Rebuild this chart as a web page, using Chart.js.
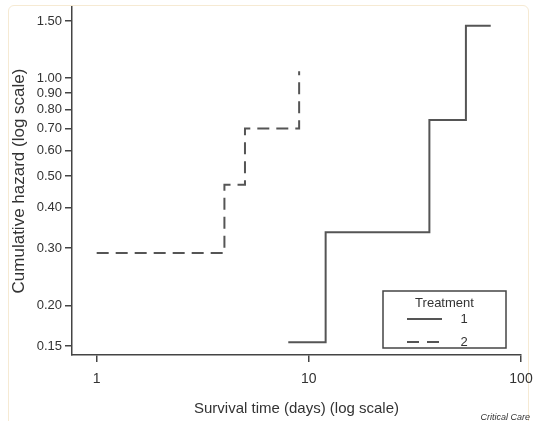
<!DOCTYPE html>
<html>
<head>
<meta charset="utf-8">
<script src="https://cdn.jsdelivr.net/npm/chart.js@4"></script>
<style>
  body { margin: 0; background: #fff; }
  #wrap { position: relative; width: 534px; height: 421px; }
  #frame {
    position: absolute; left: 8px; top: 5px; width: 521px; height: 430px;
    border: 1px solid #f6ead3; border-radius: 6px; box-sizing: border-box;
  }
  #credit {
    position: absolute; right: 4px; top: 412px;
    font: italic 9px "Liberation Sans", Arial, sans-serif; color: #333;
  }
  canvas { position: absolute; left: 0; top: 0; }
</style>
</head>
<body>
<div id="wrap">
  <div id="frame"></div>
  <canvas id="myChart" width="534" height="421"></canvas>
  <div id="credit">Critical Care</div>
</div>
<script>
// survival times (days) where cumulative hazard steps up
const treat1Days = [8, 12, 37, 55, 72];
const treat1Hazard = [0.154, 0.336, 0.744, 1.45, 1.45];
const treat2Days = [1, 4, 5, 9];
const treat2Hazard = [0.29, 0.47, 0.70, 1.05];

const yTicks = [0.15, 0.2, 0.3, 0.4, 0.5, 0.6, 0.7, 0.8, 0.9, 1.0, 1.5];
const xTicks = [1, 10, 100];
const legendTitle = "Treatment";
const legendLabels = ["1", "2"];

const ink = "#333";
const lineCol = "#555";
const font = "Liberation Sans";

const toPoints = (xs, ys) => xs.map((x, i) => ({ x: x, y: ys[i] }));

// legend drawn as a framed box in the lower right of the plot
const legendBox = {
  id: "legendBox",
  afterDraw(chart) {
    const { ctx, chartArea } = chart;
    const w = 123, h = 57;
    const left = chartArea.right - 15 - w;
    const top = chartArea.bottom - 7 - h;
    ctx.save();
    ctx.strokeStyle = "#444";
    ctx.lineWidth = 1.5;
    ctx.strokeRect(left, top, w, h);
    ctx.fillStyle = ink;
    ctx.font = "13px " + font;
    ctx.textAlign = "center";
    ctx.textBaseline = "middle";
    ctx.fillText(legendTitle, left + w / 2, top + 12);
    const dashes = [[], [12, 8]];
    legendLabels.forEach((lab, i) => {
      const y = top + 28 + i * 23;
      ctx.beginPath();
      ctx.setLineDash(dashes[i]);
      ctx.strokeStyle = lineCol;
      ctx.lineWidth = 2;
      ctx.moveTo(left + 24, y);
      ctx.lineTo(left + 59, y);
      ctx.stroke();
      ctx.setLineDash([]);
      ctx.fillText(lab, left + 81, y);
    });
    ctx.restore();
  },
};

const config = {
  type: "scatter",
  data: {
    datasets: [
      {
        label: "1",
        data: toPoints(treat1Days, treat1Hazard),
        showLine: true,
        stepped: "before",
        borderColor: lineCol,
        borderWidth: 2,
        pointRadius: 0,
      },
      {
        label: "2",
        data: toPoints(treat2Days, treat2Hazard),
        showLine: true,
        stepped: "before",
        borderColor: lineCol,
        borderWidth: 2,
        borderDash: [12, 7],
        pointRadius: 0,
      },
    ],
  },
  options: {
    responsive: false,
    animation: false,
    layout: { padding: { top: 7, right: 13, left: 7, bottom: 0 } },
    plugins: {
      legend: { display: false },
      tooltip: { enabled: false },
    },
    scales: {
      x: {
        type: "logarithmic",
        min: 0.765,
        max: 100,
        afterBuildTicks: (scale) => {
          scale.ticks = xTicks.map((v) => ({ value: v }));
        },
        afterFit: (scale) => {
          scale.height = 66;
          scale.paddingLeft = 0;
          scale.paddingRight = 0;
        },
        ticks: {
          color: ink,
          font: { family: font, size: 14 },
          padding: 9,
          maxRotation: 0,
          callback: (v) => String(v),
        },
        grid: { drawOnChartArea: false, drawTicks: true, tickLength: 7, color: "#444", lineWidth: 1.5 },
        border: { display: true, color: "#444", width: 1.5 },
        title: {
          display: true,
          text: "Survival time (days) (log scale)",
          color: ink,
          font: { family: font, size: 15 },
          padding: { top: 4, bottom: 3 },
        },
      },
      y: {
        type: "logarithmic",
        min: 0.1407,
        max: 1.656,
        afterBuildTicks: (scale) => {
          scale.ticks = yTicks.map((v) => ({ value: v }));
        },
        afterFit: (scale) => {
          scale.width = 65;
          scale.paddingTop = 0;
          scale.paddingBottom = 0;
        },
        ticks: {
          color: ink,
          font: { family: font, size: 13 },
          padding: 3,
          callback: (v) => Number(v).toFixed(2),
        },
        grid: { drawOnChartArea: false, drawTicks: true, tickLength: 7, color: "#444", lineWidth: 1.5 },
        border: { display: true, color: "#444", width: 1.5 },
        title: {
          display: true,
          text: "Cumulative hazard (log scale)",
          color: ink,
          font: { family: font, size: 17 },
          padding: { top: 2, bottom: 0 },
        },
      },
    },
  },
  plugins: [legendBox],
};

const myChart = new Chart(document.getElementById("myChart"), config);
</script>
</body>
</html>
